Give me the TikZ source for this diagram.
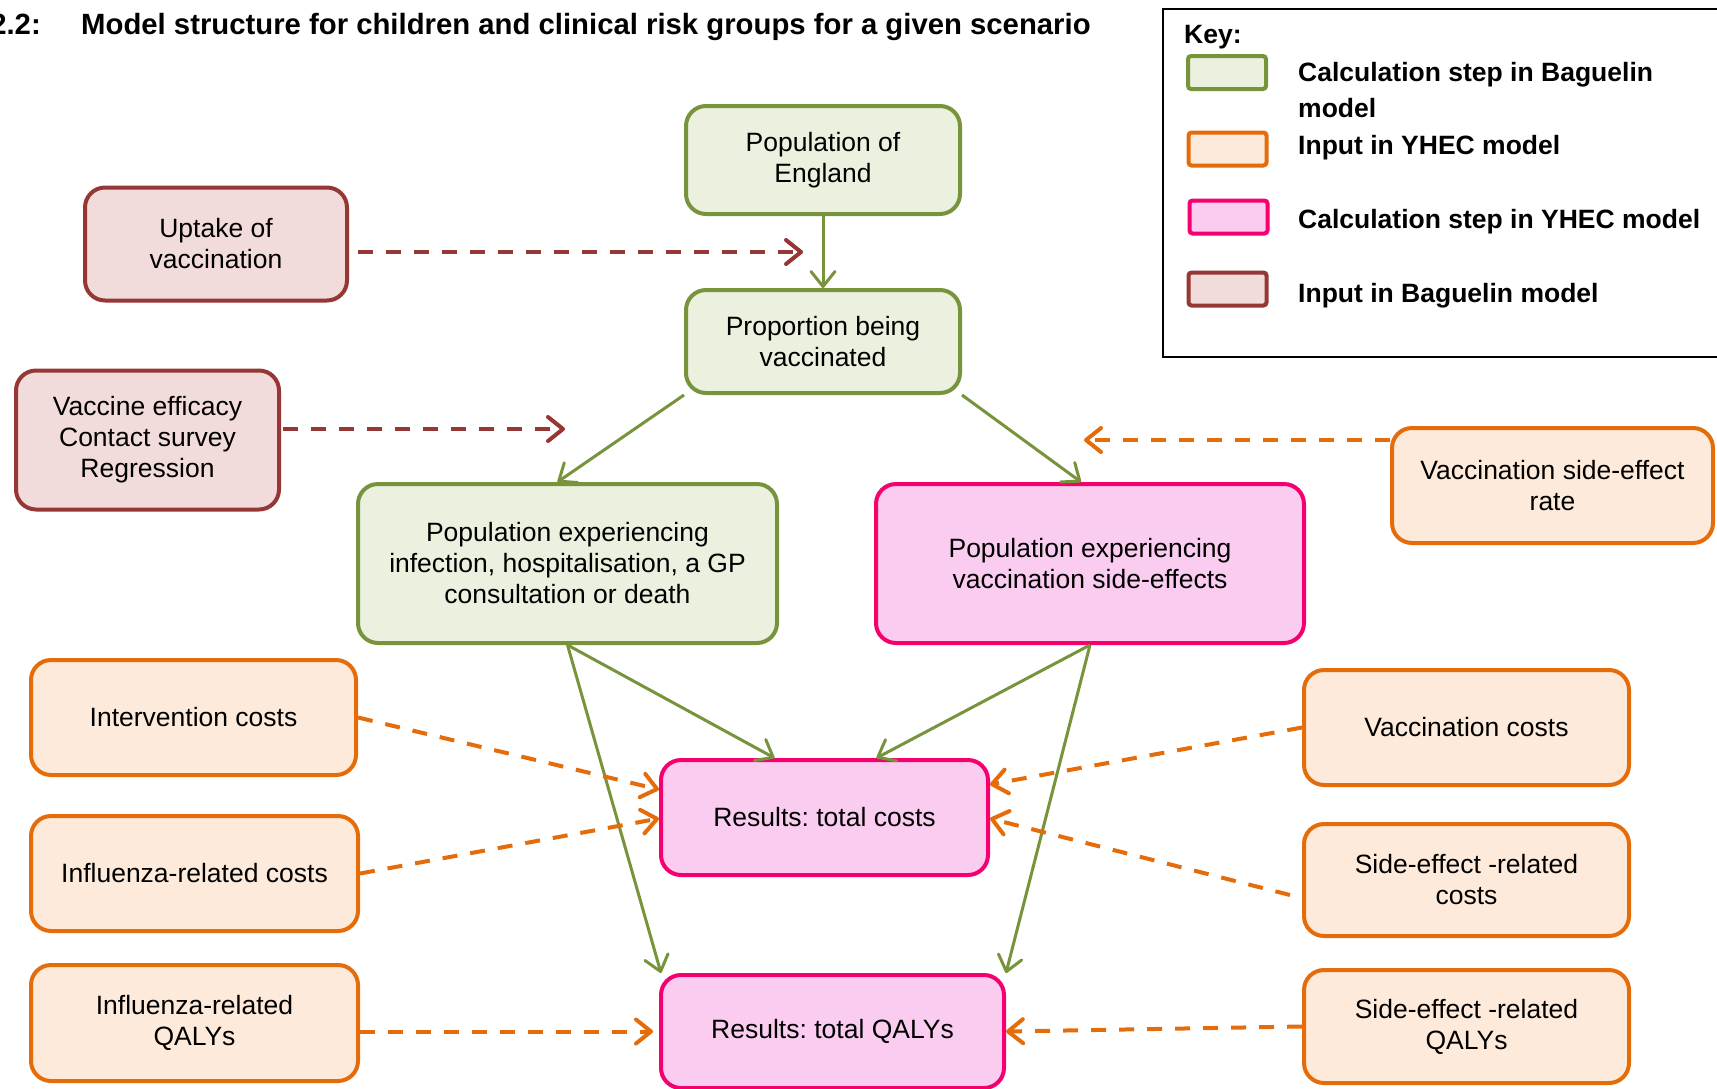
\documentclass[tikz,border=0pt]{standalone}
\usepackage{fontspec}
\setmainfont{Liberation Sans}
\usetikzlibrary{arrows.meta}
\frenchspacing

\definecolor{bagcalcdraw}{HTML}{77933C}
\definecolor{bagcalcfill}{HTML}{EBF1DE}
\definecolor{yhecindraw}{HTML}{E46C0A}
\definecolor{yhecinfill}{HTML}{FDEADA}
\definecolor{yheccalcdraw}{HTML}{F5006E}
\definecolor{yheccalcfill}{HTML}{FACDF0}
\definecolor{bagindraw}{HTML}{953735}
\definecolor{baginfill}{HTML}{F2DCDB}

\tikzset{
  boxbase/.style={rectangle, rounded corners=20pt, line width=4pt, align=center,
    inner sep=0pt, font=\fontsize{26.5}{31}\selectfont},
  bagcalc/.style={boxbase, draw=bagcalcdraw, fill=bagcalcfill},
  yhecin/.style={boxbase, draw=yhecindraw, fill=yhecinfill},
  yheccalc/.style={boxbase, draw=yheccalcdraw, fill=yheccalcfill},
  bagin/.style={boxbase, draw=bagindraw, fill=baginfill},
  barb/.style={-{Straight Barb[length=15pt,width=24pt,round]}},
  flow/.style={barb, draw=bagcalcdraw, line width=3pt},
  yhecfeed/.style={barb, draw=yhecindraw, line width=4pt, dash pattern=on 15pt off 13pt},
  bagfeed/.style={barb, draw=bagindraw, line width=4pt, dash pattern=on 15pt off 13pt},
  keyswatch/.style={rectangle, line width=4pt, rounded corners=3pt,
    minimum width=78pt, minimum height=33pt, inner sep=0pt},
  keytext/.style={anchor=base west, inner sep=0pt, font=\bfseries\fontsize{26.5}{31}\selectfont},
  titletext/.style={inner sep=0pt, font=\bfseries\fontsize{29.3}{34}\selectfont},
}

\begin{document}
\begin{tikzpicture}[x=1pt, y=-1pt]
\useasboundingbox (0,0) rectangle (1717,1088);
\clip (0,0) rectangle (1717,1088);

% heading
\node[titletext, anchor=base east] (fignum) at (41,34) {2.2:};
\node[titletext, anchor=base west] (figtitle) at (81,34)
  {Model structure for children and clinical risk groups for a given scenario};

% key
\draw[line width=2pt] (1163,9) rectangle (1745,357);
\node[keytext] (keyhead) at (1184,43) {Key:};
\node[keyswatch, draw=bagcalcdraw, fill=bagcalcfill] (swbagcalc) at (1227,72.5) {};
\node[keyswatch, draw=yhecindraw, fill=yhecinfill] (swyhecin) at (1227.5,149) {};
\node[keyswatch, draw=yheccalcdraw, fill=yheccalcfill] (swyheccalc) at (1228.5,217) {};
\node[keyswatch, draw=bagindraw, fill=baginfill] (swbagin) at (1227.5,289) {};
\node[keytext] (ktbagcalc) at (1298,81) {Calculation step in Baguelin};
\node[keytext] (ktbagcalcb) at (1298,117) {model};
\node[keytext] (ktyhecin) at (1298,154) {Input in YHEC model};
\node[keytext] (ktyheccalc) at (1298,228) {Calculation step in YHEC model};
\node[keytext] (ktbagin) at (1298,302) {Input in Baguelin model};

% model boxes
\node[bagcalc, minimum width=274pt, minimum height=108pt] (popeng) at (823,160)
  {Population of\\England};
\node[bagin, minimum width=262pt, minimum height=113pt] (uptake) at (216,244)
  {Uptake of\\vaccination};
\node[bagcalc, minimum width=274pt, minimum height=103pt] (prop) at (823,341.5)
  {Proportion being\\vaccinated};
\node[bagin, minimum width=263pt, minimum height=139pt] (vacceff) at (147.5,440)
  {Vaccine efficacy\\Contact survey\\Regression};
\node[bagcalc, minimum width=419pt, minimum height=159pt] (popinf) at (567.5,563.5)
  {Population experiencing\\infection, hospitalisation, a GP\\consultation or death};
\node[yheccalc, minimum width=428pt, minimum height=159pt] (popse) at (1090,563.5)
  {Population experiencing\\vaccination side-effects};
\node[yhecin, minimum width=321pt, minimum height=115pt] (vserate) at (1552.5,485.5)
  {Vaccination side-effect\\rate};
\node[yhecin, minimum width=325pt, minimum height=115pt] (intcost) at (193.5,717.5)
  {Intervention costs};
\node[yhecin, minimum width=327pt, minimum height=115pt] (flucost) at (194.5,873.5)
  {Influenza-related costs};
\node[yhecin, minimum width=327pt, minimum height=116pt] (fluqaly) at (194.5,1023)
  {Influenza-related\\QALYs};
\node[yheccalc, minimum width=327pt, minimum height=115pt] (rescost) at (824.5,817.5)
  {Results: total costs};
\node[yheccalc, minimum width=343pt, minimum height=113pt] (resqaly) at (832.5,1031.5)
  {Results: total QALYs};
\node[yhecin, minimum width=325pt, minimum height=115pt] (vcost) at (1466.5,727.5)
  {Vaccination costs};
\node[yhecin, minimum width=325pt, minimum height=112pt] (secost) at (1466.5,880)
  {Side-effect -related\\costs};
\node[yhecin, minimum width=325pt, minimum height=113pt] (seqaly) at (1466.5,1026.5)
  {Side-effect -related\\QALYs};

% free ends of the input arrows
\coordinate (uptaketip) at (803,252);
\coordinate (efficacytip) at (565,429);
\coordinate (sideratetip) at (1084,440);

% inputs to the Baguelin model
\draw[bagfeed] ([shift={(9pt,-8pt)}]uptake.east) -- (uptaketip);
\draw[bagfeed] ([shift={(2pt,11pt)}]vacceff.east) -- (efficacytip);

% calculation flow
\draw[flow] (popeng.south) -- (prop.north);
\draw[flow] (prop.south west) -- ([xshift=-10pt]popinf.north);
\draw[flow] (prop.south east) -- ([xshift=-9pt]popse.north);
\draw[flow] (popinf.south) -- ([xshift=-50pt]rescost.north);
\draw[flow] (popinf.south) -- ([xshift=2pt]resqaly.north west);
\draw[flow] (popse.south) -- ([xshift=52pt]rescost.north);
\draw[flow] (popse.south) -- (resqaly.north east);

% inputs to the YHEC model
\draw[yhecfeed] (vserate.west |- sideratetip) -- (sideratetip);
\draw[yhecfeed] (intcost.east) -- ([yshift=28pt]rescost.west);
\draw[yhecfeed] (flucost.east) -- ([yshift=-1pt]rescost.west);
\draw[yhecfeed] (fluqaly.east |- resqaly.west) -- ([xshift=-6pt]resqaly.west);
\draw[yhecfeed] (vcost.west) -- ([yshift=33pt]rescost.east);
\draw[yhecfeed] ([shift={(-12pt,-15pt)}]secost.west) -- ([yshift=-1pt]rescost.east);
\draw[yhecfeed] (seqaly.west) -- (resqaly.east);
\end{tikzpicture}
\end{document}
